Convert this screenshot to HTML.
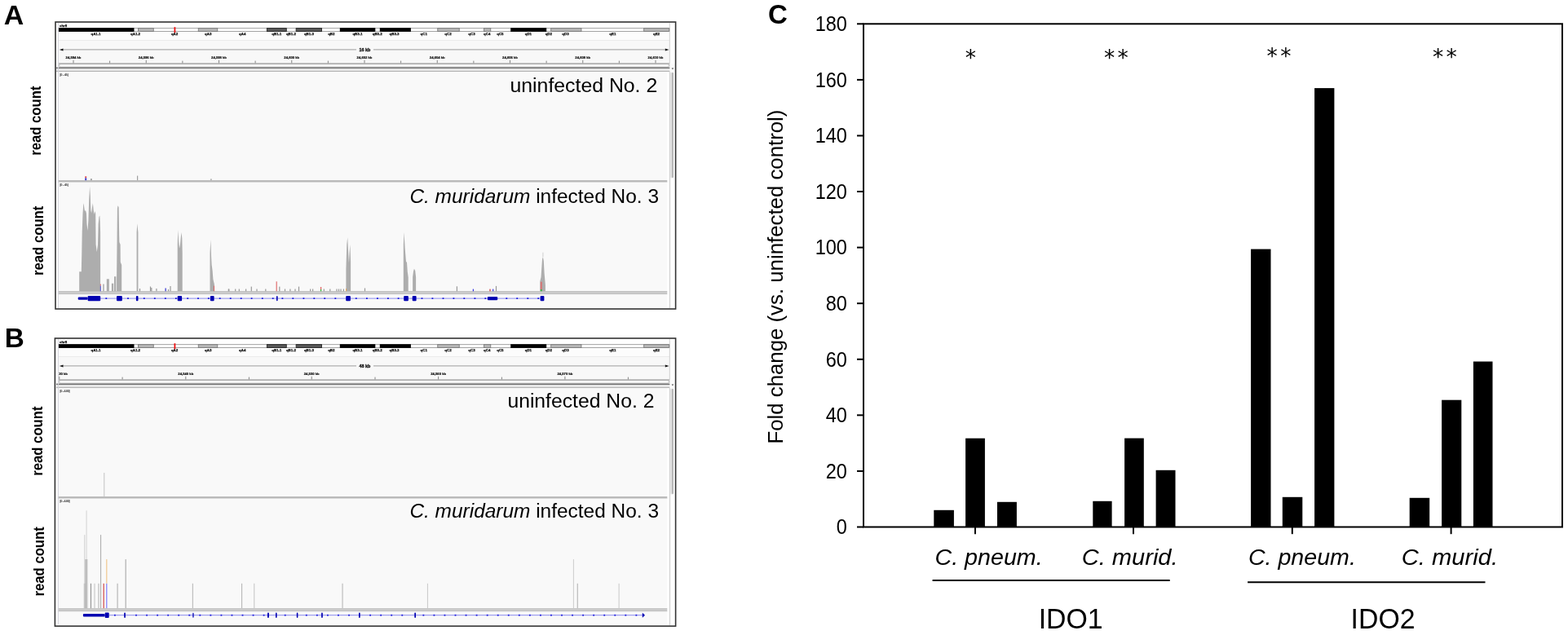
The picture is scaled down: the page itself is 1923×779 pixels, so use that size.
<!DOCTYPE html>
<html><head><meta charset="utf-8"><title>Figure</title>
<style>html,body{margin:0;padding:0;background:#fff;}body{width:1923px;height:779px;overflow:hidden;}svg{display:block;}</style>
</head><body>
<svg width="1923" height="779" viewBox="0 0 1923 779">
<rect x="0" y="0" width="1923" height="779" fill="#fff"/>
<rect x="68" y="27" width="760.6" height="352" fill="#ffffff"/>
<rect x="72" y="39.5" width="749" height="9.5" fill="#fcfcfc"/>
<rect x="72" y="49" width="749" height="29" fill="#f8f8f8"/>
<line x1="72" y1="49.5" x2="821" y2="49.5" stroke="#ebebeb" stroke-width="1"/>
<text x="73" y="32.6" font-family="'Liberation Sans', Arial, sans-serif" font-size="4.4" font-weight="bold" font-style="normal" text-anchor="start" fill="#111" stroke="#111" stroke-width="0.25">chr8</text>
<rect x="72" y="34.65" width="749" height="3.8" fill="#fff" stroke="#9a9a9a" stroke-width="0.9"/>
<rect x="72" y="34.2" width="92.5" height="4.7" fill="#000"/>
<rect x="169.55" y="34.65" width="18.7" height="3.8" fill="#b6b6b6" stroke="#7a7a7a" stroke-width="0.9"/>
<rect x="243.25" y="34.65" width="23.5" height="3.8" fill="#b6b6b6" stroke="#7a7a7a" stroke-width="0.9"/>
<rect x="327.35" y="34.65" width="23.9" height="3.8" fill="#585858" stroke="#222" stroke-width="0.9"/>
<rect x="363.15" y="34.65" width="31.3" height="3.8" fill="#585858" stroke="#222" stroke-width="0.9"/>
<rect x="416.8" y="34.2" width="43.5" height="4.7" fill="#000"/>
<rect x="465.8" y="34.2" width="38.1" height="4.7" fill="#000"/>
<rect x="536.75" y="34.65" width="26.5" height="3.8" fill="#b6b6b6" stroke="#7a7a7a" stroke-width="0.9"/>
<rect x="593.55" y="34.65" width="8.2" height="3.8" fill="#b6b6b6" stroke="#7a7a7a" stroke-width="0.9"/>
<rect x="626.2" y="34.2" width="44" height="4.7" fill="#000"/>
<rect x="675.65" y="34.65" width="37.3" height="3.8" fill="#b6b6b6" stroke="#7a7a7a" stroke-width="0.9"/>
<rect x="789.65" y="34.65" width="30.8" height="3.8" fill="#b6b6b6" stroke="#7a7a7a" stroke-width="0.9"/>
<rect x="213.5" y="33.2" width="1.8" height="7" fill="#ee1111"/>
<text x="117.5" y="43.3" font-family="'Liberation Sans', Arial, sans-serif" font-size="4.4" font-weight="bold" font-style="normal" text-anchor="middle" fill="#111" stroke="#111" stroke-width="0.25">qA1.1</text>
<text x="166.1" y="43.3" font-family="'Liberation Sans', Arial, sans-serif" font-size="4.4" font-weight="bold" font-style="normal" text-anchor="middle" fill="#111" stroke="#111" stroke-width="0.25">qA1.2</text>
<text x="214.1" y="43.3" font-family="'Liberation Sans', Arial, sans-serif" font-size="4.4" font-weight="bold" font-style="normal" text-anchor="middle" fill="#111" stroke="#111" stroke-width="0.25">qA2</text>
<text x="255.2" y="43.3" font-family="'Liberation Sans', Arial, sans-serif" font-size="4.4" font-weight="bold" font-style="normal" text-anchor="middle" fill="#111" stroke="#111" stroke-width="0.25">qA3</text>
<text x="297.2" y="43.3" font-family="'Liberation Sans', Arial, sans-serif" font-size="4.4" font-weight="bold" font-style="normal" text-anchor="middle" fill="#111" stroke="#111" stroke-width="0.25">qA4</text>
<text x="339.3" y="43.3" font-family="'Liberation Sans', Arial, sans-serif" font-size="4.4" font-weight="bold" font-style="normal" text-anchor="middle" fill="#111" stroke="#111" stroke-width="0.25">qB1.1</text>
<text x="356.9" y="43.3" font-family="'Liberation Sans', Arial, sans-serif" font-size="4.4" font-weight="bold" font-style="normal" text-anchor="middle" fill="#111" stroke="#111" stroke-width="0.25">qB1.2</text>
<text x="378.9" y="43.3" font-family="'Liberation Sans', Arial, sans-serif" font-size="4.4" font-weight="bold" font-style="normal" text-anchor="middle" fill="#111" stroke="#111" stroke-width="0.25">qB1.3</text>
<text x="406.3" y="43.3" font-family="'Liberation Sans', Arial, sans-serif" font-size="4.4" font-weight="bold" font-style="normal" text-anchor="middle" fill="#111" stroke="#111" stroke-width="0.25">qB2</text>
<text x="438.4" y="43.3" font-family="'Liberation Sans', Arial, sans-serif" font-size="4.4" font-weight="bold" font-style="normal" text-anchor="middle" fill="#111" stroke="#111" stroke-width="0.25">qB3.1</text>
<text x="462.7" y="43.3" font-family="'Liberation Sans', Arial, sans-serif" font-size="4.4" font-weight="bold" font-style="normal" text-anchor="middle" fill="#111" stroke="#111" stroke-width="0.25">qB3.2</text>
<text x="483.6" y="43.3" font-family="'Liberation Sans', Arial, sans-serif" font-size="4.4" font-weight="bold" font-style="normal" text-anchor="middle" fill="#111" stroke="#111" stroke-width="0.25">qB3.3</text>
<text x="519.7" y="43.3" font-family="'Liberation Sans', Arial, sans-serif" font-size="4.4" font-weight="bold" font-style="normal" text-anchor="middle" fill="#111" stroke="#111" stroke-width="0.25">qC1</text>
<text x="549.5" y="43.3" font-family="'Liberation Sans', Arial, sans-serif" font-size="4.4" font-weight="bold" font-style="normal" text-anchor="middle" fill="#111" stroke="#111" stroke-width="0.25">qC2</text>
<text x="578.5" y="43.3" font-family="'Liberation Sans', Arial, sans-serif" font-size="4.4" font-weight="bold" font-style="normal" text-anchor="middle" fill="#111" stroke="#111" stroke-width="0.25">qC3</text>
<text x="597.2" y="43.3" font-family="'Liberation Sans', Arial, sans-serif" font-size="4.4" font-weight="bold" font-style="normal" text-anchor="middle" fill="#111" stroke="#111" stroke-width="0.25">qC4</text>
<text x="613.4" y="43.3" font-family="'Liberation Sans', Arial, sans-serif" font-size="4.4" font-weight="bold" font-style="normal" text-anchor="middle" fill="#111" stroke="#111" stroke-width="0.25">qC5</text>
<text x="647.9" y="43.3" font-family="'Liberation Sans', Arial, sans-serif" font-size="4.4" font-weight="bold" font-style="normal" text-anchor="middle" fill="#111" stroke="#111" stroke-width="0.25">qD1</text>
<text x="672.8" y="43.3" font-family="'Liberation Sans', Arial, sans-serif" font-size="4.4" font-weight="bold" font-style="normal" text-anchor="middle" fill="#111" stroke="#111" stroke-width="0.25">qD2</text>
<text x="693.5" y="43.3" font-family="'Liberation Sans', Arial, sans-serif" font-size="4.4" font-weight="bold" font-style="normal" text-anchor="middle" fill="#111" stroke="#111" stroke-width="0.25">qD3</text>
<text x="751.3" y="43.3" font-family="'Liberation Sans', Arial, sans-serif" font-size="4.4" font-weight="bold" font-style="normal" text-anchor="middle" fill="#111" stroke="#111" stroke-width="0.25">qE1</text>
<text x="805" y="43.3" font-family="'Liberation Sans', Arial, sans-serif" font-size="4.4" font-weight="bold" font-style="normal" text-anchor="middle" fill="#111" stroke="#111" stroke-width="0.25">qE2</text>
<line x1="76" y1="60.9" x2="437" y2="60.9" stroke="#9c9c9c" stroke-width="1"/>
<line x1="458" y1="60.9" x2="817" y2="60.9" stroke="#9c9c9c" stroke-width="1"/>
<path d="M72.8 60.9 L77.5 59.4 L77.5 62.4 Z" fill="#111"/>
<path d="M820.5 60.9 L815.8 59.4 L815.8 62.4 Z" fill="#111"/>
<text x="447.5" y="62.9" font-family="'Liberation Sans', Arial, sans-serif" font-size="5.4" font-weight="bold" font-style="normal" text-anchor="middle" fill="#111" stroke="#111" stroke-width="0.3">16 kb</text>
<line x1="90" y1="73.8" x2="90" y2="77.5" stroke="#777" stroke-width="0.9"/>
<text x="90" y="72.2" font-family="'Liberation Sans', Arial, sans-serif" font-size="4.2" font-weight="bold" font-style="normal" text-anchor="middle" fill="#111" stroke="#111" stroke-width="0.2">24,594 kb</text>
<line x1="179.25" y1="73.8" x2="179.25" y2="77.5" stroke="#777" stroke-width="0.9"/>
<text x="179.25" y="72.2" font-family="'Liberation Sans', Arial, sans-serif" font-size="4.2" font-weight="bold" font-style="normal" text-anchor="middle" fill="#111" stroke="#111" stroke-width="0.2">24,596 kb</text>
<line x1="268.5" y1="73.8" x2="268.5" y2="77.5" stroke="#777" stroke-width="0.9"/>
<text x="268.5" y="72.2" font-family="'Liberation Sans', Arial, sans-serif" font-size="4.2" font-weight="bold" font-style="normal" text-anchor="middle" fill="#111" stroke="#111" stroke-width="0.2">24,598 kb</text>
<line x1="357.75" y1="73.8" x2="357.75" y2="77.5" stroke="#777" stroke-width="0.9"/>
<text x="357.75" y="72.2" font-family="'Liberation Sans', Arial, sans-serif" font-size="4.2" font-weight="bold" font-style="normal" text-anchor="middle" fill="#111" stroke="#111" stroke-width="0.2">24,600 kb</text>
<line x1="447" y1="73.8" x2="447" y2="77.5" stroke="#777" stroke-width="0.9"/>
<text x="447" y="72.2" font-family="'Liberation Sans', Arial, sans-serif" font-size="4.2" font-weight="bold" font-style="normal" text-anchor="middle" fill="#111" stroke="#111" stroke-width="0.2">24,602 kb</text>
<line x1="536.25" y1="73.8" x2="536.25" y2="77.5" stroke="#777" stroke-width="0.9"/>
<text x="536.25" y="72.2" font-family="'Liberation Sans', Arial, sans-serif" font-size="4.2" font-weight="bold" font-style="normal" text-anchor="middle" fill="#111" stroke="#111" stroke-width="0.2">24,604 kb</text>
<line x1="625.5" y1="73.8" x2="625.5" y2="77.5" stroke="#777" stroke-width="0.9"/>
<text x="625.5" y="72.2" font-family="'Liberation Sans', Arial, sans-serif" font-size="4.2" font-weight="bold" font-style="normal" text-anchor="middle" fill="#111" stroke="#111" stroke-width="0.2">24,606 kb</text>
<line x1="714.75" y1="73.8" x2="714.75" y2="77.5" stroke="#777" stroke-width="0.9"/>
<text x="714.75" y="72.2" font-family="'Liberation Sans', Arial, sans-serif" font-size="4.2" font-weight="bold" font-style="normal" text-anchor="middle" fill="#111" stroke="#111" stroke-width="0.2">24,608 kb</text>
<line x1="804" y1="73.8" x2="804" y2="77.5" stroke="#777" stroke-width="0.9"/>
<text x="804" y="72.2" font-family="'Liberation Sans', Arial, sans-serif" font-size="4.2" font-weight="bold" font-style="normal" text-anchor="middle" fill="#111" stroke="#111" stroke-width="0.2">24,610 kb</text>
<line x1="134.62" y1="74.6" x2="134.62" y2="77.5" stroke="#777" stroke-width="0.9"/>
<line x1="223.87" y1="74.6" x2="223.87" y2="77.5" stroke="#777" stroke-width="0.9"/>
<line x1="313.12" y1="74.6" x2="313.12" y2="77.5" stroke="#777" stroke-width="0.9"/>
<line x1="402.37" y1="74.6" x2="402.37" y2="77.5" stroke="#777" stroke-width="0.9"/>
<line x1="491.62" y1="74.6" x2="491.62" y2="77.5" stroke="#777" stroke-width="0.9"/>
<line x1="580.87" y1="74.6" x2="580.87" y2="77.5" stroke="#777" stroke-width="0.9"/>
<line x1="670.12" y1="74.6" x2="670.12" y2="77.5" stroke="#777" stroke-width="0.9"/>
<line x1="759.37" y1="74.6" x2="759.37" y2="77.5" stroke="#777" stroke-width="0.9"/>
<line x1="72" y1="78" x2="821" y2="78" stroke="#8a8a8a" stroke-width="1"/>
<line x1="821.3" y1="28" x2="821.3" y2="82.2" stroke="#c4c4c4" stroke-width="0.8"/>
<rect x="72.5" y="78.7" width="748" height="3.4" rx="1.5" fill="#fff" stroke="#a0a0a0" stroke-width="0.8"/>
<rect x="69" y="82.6" width="752.6" height="1.5" fill="#6c6c6c"/>
<rect x="69" y="84.1" width="752.6" height="3" fill="#e6e6e6"/>
<rect x="69" y="87.1" width="752.6" height="1" fill="#ababab"/>
<rect x="821.6" y="78" width="6.2" height="10.3" fill="#fbfbfb"/>
<rect x="72" y="88.1" width="746.3" height="133" fill="#f9f9f9"/>
<rect x="70.9" y="221.1" width="750.3" height="2.6" fill="#b8b8b8"/>
<rect x="72" y="223.7" width="746.3" height="133.6" fill="#f9f9f9"/>
<rect x="72" y="357.3" width="746.3" height="0" fill="#f9f9f9"/>
<rect x="70.9" y="357.3" width="750.3" height="1" fill="#a4a4a4"/>
<rect x="70.9" y="358.3" width="750.3" height="3.1" fill="#c6c6c6"/>
<rect x="72" y="361.4" width="746.3" height="16.6" fill="#f9f9f9"/>
<line x1="71.4" y1="28" x2="71.4" y2="378" stroke="#d4d4dc" stroke-width="1"/>
<rect x="818.3" y="88.1" width="9.5" height="289.9" fill="#ffffff"/>
<rect x="820.9" y="88.1" width="1.2" height="289.9" fill="#d0d0d0"/>
<rect x="822.2" y="88.5" width="3.8" height="130" rx="1.6" fill="#e4e4e4"/>
<rect x="823.9" y="89" width="1.9" height="129" rx="0.9" fill="#b4b4b4"/>
<path d="M823.6 83.4 L826.2 83.4 L824.9 85.3 Z" fill="#444"/>
<text x="73.4" y="92.6" font-family="'Liberation Sans', Arial, sans-serif" font-size="3.6" font-weight="normal" font-style="normal" text-anchor="start" fill="#444" stroke="#555" stroke-width="0.2" textLength="10.3" lengthAdjust="spacing">[0 - 45]</text>
<text x="73.4" y="227.8" font-family="'Liberation Sans', Arial, sans-serif" font-size="3.6" font-weight="normal" font-style="normal" text-anchor="start" fill="#444" stroke="#555" stroke-width="0.2" textLength="10.3" lengthAdjust="spacing">[0 - 45]</text>
<rect x="68" y="27" width="760.6" height="352" fill="none" stroke="#333" stroke-width="1.6"/>
<rect x="104.2" y="216.3" width="2" height="2.1" fill="#e05050"/>
<rect x="104.2" y="218.4" width="2" height="2.8" fill="#4040d0"/>
<rect x="111" y="219.2" width="1.8" height="2" fill="#9a9a9a"/>
<rect x="168" y="215.6" width="1.2" height="5.6" fill="#a0a0a0"/>
<rect x="258.2" y="219.4" width="1.4" height="1.8" fill="#a0a0a0"/>
<polygon points="97.2,357.3 97.2,333.2 99.8,333.2 100.3,310 100.7,285 101.5,262 102.2,252 102.7,249.3 103.3,255 104,259 105,258 106,262 106.5,275 107.5,283 108.4,270 109.2,245 110.1,228.8 110.8,240 111.4,258 112.2,261.5 112.9,255 113.9,249.3 114.7,258 115.5,263 116.3,259 117.2,262 117.6,300 118.8,309 120,300 120.6,275 121.5,266 122.3,264.5 122.7,272 123.1,285 123.1,357.3" fill="#adadad"/>
<polygon points="143.1,357.3 143.1,339 143.6,290 143.9,256 144.5,252.3 145.6,254 146.2,290 146.4,297 147.6,300 147.8,321.5 149.2,325 149.2,357.3" fill="#adadad"/>
<polygon points="167.6,357.3 167.6,285 168.3,274.2 169.4,285 169.4,357.3" fill="#adadad"/>
<polygon points="217.7,357.3 217.7,300 218.3,282.3 219.2,296 220,304.7 221,300 222.4,285 223.3,292 223.7,310 223.7,357.3" fill="#adadad"/>
<polygon points="257.5,357.3 257.5,310 258.4,294 259.1,315 259.6,324.5 260.6,332 261.4,342.5 262.9,349 262.9,357.3" fill="#adadad"/>
<polygon points="424.4,357.3 424.4,330 425.3,300 426.2,291.2 427.2,310 428,322.6 428.6,310 429.4,300.1 430.1,320 430.1,357.3" fill="#adadad"/>
<polygon points="494.8,357.3 494.8,300 495.5,284.9 496.7,305 498,320.8 499,322 499.8,333.4 500.7,340 500.7,357.3" fill="#adadad"/>
<polygon points="506.1,357.3 506.1,340 507,333 507.9,329.8 509.2,332 510.1,340 510.1,357.3" fill="#adadad"/>
<polygon points="662.3,357.3 662.3,345 663.5,340 665,318 665.9,315.3 666.8,320 667.6,335 668.9,350 668.9,357.3" fill="#adadad"/>
<rect x="665.4" y="309.7" width="1" height="5.6" fill="#cfcfcf"/>
<rect x="126.2" y="348.5" width="1.5" height="8.8" fill="#adadad"/>
<rect x="130.8" y="342.3" width="3" height="15" fill="#adadad"/>
<rect x="136.9" y="347.7" width="2.3" height="9.6" fill="#adadad"/>
<rect x="140" y="339.2" width="2.3" height="18.1" fill="#adadad"/>
<rect x="122.8" y="350.5" width="1" height="6.8" fill="#5050d0"/>
<rect x="122.8" y="348.5" width="1" height="2" fill="#e06060"/>
<rect x="262.1" y="350.6" width="0.8" height="6.7" fill="#e05050"/>
<rect x="662.8" y="345.7" width="1.9" height="9.3" fill="#d87070"/>
<rect x="662.8" y="355" width="1.9" height="2.3" fill="#40b040"/>
<rect x="170.9" y="354" width="1.2" height="3.3" fill="#9a9a9a"/>
<rect x="183.9" y="351.5" width="1.2" height="5.8" fill="#9a9a9a"/>
<rect x="185.2" y="353" width="1.2" height="4.3" fill="#9a9a9a"/>
<rect x="191.3" y="354" width="1.2" height="3.3" fill="#9a9a9a"/>
<rect x="205.9" y="355" width="1.2" height="2.3" fill="#9a9a9a"/>
<rect x="208.4" y="351" width="1.2" height="6.3" fill="#9a9a9a"/>
<rect x="279.7" y="354.5" width="1.2" height="2.8" fill="#9a9a9a"/>
<rect x="280.2" y="354.5" width="1.2" height="2.8" fill="#9a9a9a"/>
<rect x="288.1" y="354.5" width="1.2" height="2.8" fill="#9a9a9a"/>
<rect x="292.7" y="354.5" width="1.2" height="2.8" fill="#9a9a9a"/>
<rect x="301" y="354.5" width="1.2" height="2.8" fill="#9a9a9a"/>
<rect x="307.7" y="351.6" width="1.2" height="5.7" fill="#9a9a9a"/>
<rect x="314.4" y="354.5" width="1.2" height="2.8" fill="#9a9a9a"/>
<rect x="325.2" y="354.5" width="1.2" height="2.8" fill="#9a9a9a"/>
<rect x="342.2" y="351.6" width="1.2" height="5.7" fill="#9a9a9a"/>
<rect x="348.9" y="354.5" width="1.2" height="2.8" fill="#9a9a9a"/>
<rect x="355.3" y="354.5" width="1.2" height="2.8" fill="#9a9a9a"/>
<rect x="361.4" y="354.5" width="1.2" height="2.8" fill="#9a9a9a"/>
<rect x="365.9" y="351.6" width="1.2" height="5.7" fill="#9a9a9a"/>
<rect x="380.1" y="354.5" width="1.2" height="2.8" fill="#9a9a9a"/>
<rect x="383" y="354.5" width="1.2" height="2.8" fill="#9a9a9a"/>
<rect x="396.7" y="354.5" width="1.2" height="2.8" fill="#9a9a9a"/>
<rect x="404.2" y="354.5" width="1.2" height="2.8" fill="#9a9a9a"/>
<rect x="412.4" y="354.5" width="1.2" height="2.8" fill="#9a9a9a"/>
<rect x="414.9" y="354.5" width="1.2" height="2.8" fill="#9a9a9a"/>
<rect x="417.4" y="354.5" width="1.2" height="2.8" fill="#9a9a9a"/>
<rect x="420.8" y="354.5" width="1.2" height="2.8" fill="#9a9a9a"/>
<rect x="446.9" y="353.5" width="1.2" height="3.8" fill="#9a9a9a"/>
<rect x="559.8" y="351.3" width="1.2" height="6" fill="#9a9a9a"/>
<rect x="607.9" y="350.9" width="1.2" height="6.4" fill="#9a9a9a"/>
<rect x="202.5" y="353.5" width="1.2" height="3.8" fill="#3030d0"/>
<rect x="338.6" y="345.3" width="1.2" height="12" fill="#e07070"/>
<rect x="393" y="352" width="1.2" height="3" fill="#e06060"/>
<rect x="393" y="355" width="1.2" height="2.3" fill="#30b030"/>
<rect x="424" y="354" width="0.8" height="3.3" fill="#f0a040"/>
<rect x="579.8" y="354.6" width="1.2" height="2.7" fill="#3030e0"/>
<rect x="600.4" y="354.6" width="1.2" height="2.7" fill="#d03030"/>
<rect x="604.1" y="354.6" width="1.2" height="2.7" fill="#3030e0"/>
<text x="806.2" y="113" font-family="'Liberation Sans', Arial, sans-serif" font-size="23" font-weight="normal" font-style="normal" text-anchor="end" fill="#000" textLength="180.7" lengthAdjust="spacingAndGlyphs">uninfected No. 2</text>
<text x="502.4" y="248.6" font-family="'Liberation Sans', Arial, sans-serif" font-size="23" fill="#000" textLength="305.6" lengthAdjust="spacingAndGlyphs"><tspan font-style="italic">C. muridarum</tspan> infected No. 3</text>
<line x1="107.6" y1="366.1" x2="662.6" y2="366.1" stroke="#8a8aee" stroke-width="1"/>
<rect x="129.4" y="365.2" width="1.8" height="1.8" fill="#2222dd"/>
<rect x="156.1" y="365.2" width="1.8" height="1.8" fill="#2222dd"/>
<rect x="175.9" y="365.2" width="1.8" height="1.8" fill="#2222dd"/>
<rect x="188.9" y="365.2" width="1.8" height="1.8" fill="#2222dd"/>
<rect x="201.9" y="365.2" width="1.8" height="1.8" fill="#2222dd"/>
<rect x="214.9" y="365.2" width="1.8" height="1.8" fill="#2222dd"/>
<rect x="229.3" y="365.2" width="1.8" height="1.8" fill="#2222dd"/>
<rect x="242.1" y="365.2" width="1.8" height="1.8" fill="#2222dd"/>
<rect x="254.9" y="365.2" width="1.8" height="1.8" fill="#2222dd"/>
<rect x="268.8" y="365.2" width="1.8" height="1.8" fill="#2222dd"/>
<rect x="281.8" y="365.2" width="1.8" height="1.8" fill="#2222dd"/>
<rect x="294.8" y="365.2" width="1.8" height="1.8" fill="#2222dd"/>
<rect x="307.7" y="365.2" width="1.8" height="1.8" fill="#2222dd"/>
<rect x="320.9" y="365.2" width="1.8" height="1.8" fill="#2222dd"/>
<rect x="333.8" y="365.2" width="1.8" height="1.8" fill="#2222dd"/>
<rect x="345.5" y="365.2" width="1.8" height="1.8" fill="#2222dd"/>
<rect x="358.4" y="365.2" width="1.8" height="1.8" fill="#2222dd"/>
<rect x="371.5" y="365.2" width="1.8" height="1.8" fill="#2222dd"/>
<rect x="384.4" y="365.2" width="1.8" height="1.8" fill="#2222dd"/>
<rect x="397.3" y="365.2" width="1.8" height="1.8" fill="#2222dd"/>
<rect x="410.4" y="365.2" width="1.8" height="1.8" fill="#2222dd"/>
<rect x="435.9" y="365.2" width="1.8" height="1.8" fill="#2222dd"/>
<rect x="449" y="365.2" width="1.8" height="1.8" fill="#2222dd"/>
<rect x="462" y="365.2" width="1.8" height="1.8" fill="#2222dd"/>
<rect x="475" y="365.2" width="1.8" height="1.8" fill="#2222dd"/>
<rect x="487.7" y="365.2" width="1.8" height="1.8" fill="#2222dd"/>
<rect x="516.6" y="365.2" width="1.8" height="1.8" fill="#2222dd"/>
<rect x="529.5" y="365.2" width="1.8" height="1.8" fill="#2222dd"/>
<rect x="542.6" y="365.2" width="1.8" height="1.8" fill="#2222dd"/>
<rect x="555.5" y="365.2" width="1.8" height="1.8" fill="#2222dd"/>
<rect x="568.4" y="365.2" width="1.8" height="1.8" fill="#2222dd"/>
<rect x="581.5" y="365.2" width="1.8" height="1.8" fill="#2222dd"/>
<rect x="594.4" y="365.2" width="1.8" height="1.8" fill="#2222dd"/>
<rect x="620.4" y="365.2" width="1.8" height="1.8" fill="#2222dd"/>
<rect x="633.3" y="365.2" width="1.8" height="1.8" fill="#2222dd"/>
<rect x="646.4" y="365.2" width="1.8" height="1.8" fill="#2222dd"/>
<rect x="659.3" y="365.2" width="1.8" height="1.8" fill="#2222dd"/>
<rect x="95.7" y="364.4" width="11.9" height="3.4" rx="1" fill="#0000b2"/>
<rect x="107.6" y="362.9" width="15.6" height="6.4" rx="1" fill="#0000b2"/>
<rect x="143" y="362.9" width="6.8" height="6.4" rx="1" fill="#0000b2"/>
<rect x="166.9" y="362.9" width="2.6" height="6.4" rx="1" fill="#0000b2"/>
<rect x="217.7" y="362.9" width="5.4" height="6.4" rx="1" fill="#0000b2"/>
<rect x="257.9" y="362.9" width="4.7" height="6.4" rx="1" fill="#0000b2"/>
<rect x="339" y="362.9" width="1.6" height="6.4" rx="1" fill="#0000b2"/>
<rect x="424.2" y="362.9" width="5.7" height="6.4" rx="1" fill="#0000b2"/>
<rect x="495.2" y="362.9" width="5.7" height="6.4" rx="1" fill="#0000b2"/>
<rect x="505.7" y="362.9" width="4.9" height="6.4" rx="1" fill="#0000b2"/>
<rect x="597.9" y="364" width="12.3" height="4.2" rx="1" fill="#0000b2"/>
<rect x="662.6" y="362.9" width="4.8" height="6.4" rx="1" fill="#0000b2"/>
<rect x="68" y="415" width="760.6" height="352" fill="#ffffff"/>
<rect x="72" y="427.5" width="749" height="9.5" fill="#fcfcfc"/>
<rect x="72" y="437" width="749" height="29" fill="#f8f8f8"/>
<line x1="72" y1="437.5" x2="821" y2="437.5" stroke="#ebebeb" stroke-width="1"/>
<text x="73" y="420.6" font-family="'Liberation Sans', Arial, sans-serif" font-size="4.4" font-weight="bold" font-style="normal" text-anchor="start" fill="#111" stroke="#111" stroke-width="0.25">chr8</text>
<rect x="72" y="422.65" width="749" height="3.8" fill="#fff" stroke="#9a9a9a" stroke-width="0.9"/>
<rect x="72" y="422.2" width="92.5" height="4.7" fill="#000"/>
<rect x="169.55" y="422.65" width="18.7" height="3.8" fill="#b6b6b6" stroke="#7a7a7a" stroke-width="0.9"/>
<rect x="243.25" y="422.65" width="23.5" height="3.8" fill="#b6b6b6" stroke="#7a7a7a" stroke-width="0.9"/>
<rect x="327.35" y="422.65" width="23.9" height="3.8" fill="#585858" stroke="#222" stroke-width="0.9"/>
<rect x="363.15" y="422.65" width="31.3" height="3.8" fill="#585858" stroke="#222" stroke-width="0.9"/>
<rect x="416.8" y="422.2" width="43.5" height="4.7" fill="#000"/>
<rect x="465.8" y="422.2" width="38.1" height="4.7" fill="#000"/>
<rect x="536.75" y="422.65" width="26.5" height="3.8" fill="#b6b6b6" stroke="#7a7a7a" stroke-width="0.9"/>
<rect x="593.55" y="422.65" width="8.2" height="3.8" fill="#b6b6b6" stroke="#7a7a7a" stroke-width="0.9"/>
<rect x="626.2" y="422.2" width="44" height="4.7" fill="#000"/>
<rect x="675.65" y="422.65" width="37.3" height="3.8" fill="#b6b6b6" stroke="#7a7a7a" stroke-width="0.9"/>
<rect x="789.65" y="422.65" width="30.8" height="3.8" fill="#b6b6b6" stroke="#7a7a7a" stroke-width="0.9"/>
<rect x="213.5" y="421.2" width="1.8" height="7" fill="#ee1111"/>
<text x="117.5" y="431.3" font-family="'Liberation Sans', Arial, sans-serif" font-size="4.4" font-weight="bold" font-style="normal" text-anchor="middle" fill="#111" stroke="#111" stroke-width="0.25">qA1.1</text>
<text x="166.1" y="431.3" font-family="'Liberation Sans', Arial, sans-serif" font-size="4.4" font-weight="bold" font-style="normal" text-anchor="middle" fill="#111" stroke="#111" stroke-width="0.25">qA1.2</text>
<text x="214.1" y="431.3" font-family="'Liberation Sans', Arial, sans-serif" font-size="4.4" font-weight="bold" font-style="normal" text-anchor="middle" fill="#111" stroke="#111" stroke-width="0.25">qA2</text>
<text x="255.2" y="431.3" font-family="'Liberation Sans', Arial, sans-serif" font-size="4.4" font-weight="bold" font-style="normal" text-anchor="middle" fill="#111" stroke="#111" stroke-width="0.25">qA3</text>
<text x="297.2" y="431.3" font-family="'Liberation Sans', Arial, sans-serif" font-size="4.4" font-weight="bold" font-style="normal" text-anchor="middle" fill="#111" stroke="#111" stroke-width="0.25">qA4</text>
<text x="339.3" y="431.3" font-family="'Liberation Sans', Arial, sans-serif" font-size="4.4" font-weight="bold" font-style="normal" text-anchor="middle" fill="#111" stroke="#111" stroke-width="0.25">qB1.1</text>
<text x="356.9" y="431.3" font-family="'Liberation Sans', Arial, sans-serif" font-size="4.4" font-weight="bold" font-style="normal" text-anchor="middle" fill="#111" stroke="#111" stroke-width="0.25">qB1.2</text>
<text x="378.9" y="431.3" font-family="'Liberation Sans', Arial, sans-serif" font-size="4.4" font-weight="bold" font-style="normal" text-anchor="middle" fill="#111" stroke="#111" stroke-width="0.25">qB1.3</text>
<text x="406.3" y="431.3" font-family="'Liberation Sans', Arial, sans-serif" font-size="4.4" font-weight="bold" font-style="normal" text-anchor="middle" fill="#111" stroke="#111" stroke-width="0.25">qB2</text>
<text x="438.4" y="431.3" font-family="'Liberation Sans', Arial, sans-serif" font-size="4.4" font-weight="bold" font-style="normal" text-anchor="middle" fill="#111" stroke="#111" stroke-width="0.25">qB3.1</text>
<text x="462.7" y="431.3" font-family="'Liberation Sans', Arial, sans-serif" font-size="4.4" font-weight="bold" font-style="normal" text-anchor="middle" fill="#111" stroke="#111" stroke-width="0.25">qB3.2</text>
<text x="483.6" y="431.3" font-family="'Liberation Sans', Arial, sans-serif" font-size="4.4" font-weight="bold" font-style="normal" text-anchor="middle" fill="#111" stroke="#111" stroke-width="0.25">qB3.3</text>
<text x="519.7" y="431.3" font-family="'Liberation Sans', Arial, sans-serif" font-size="4.4" font-weight="bold" font-style="normal" text-anchor="middle" fill="#111" stroke="#111" stroke-width="0.25">qC1</text>
<text x="549.5" y="431.3" font-family="'Liberation Sans', Arial, sans-serif" font-size="4.4" font-weight="bold" font-style="normal" text-anchor="middle" fill="#111" stroke="#111" stroke-width="0.25">qC2</text>
<text x="578.5" y="431.3" font-family="'Liberation Sans', Arial, sans-serif" font-size="4.4" font-weight="bold" font-style="normal" text-anchor="middle" fill="#111" stroke="#111" stroke-width="0.25">qC3</text>
<text x="597.2" y="431.3" font-family="'Liberation Sans', Arial, sans-serif" font-size="4.4" font-weight="bold" font-style="normal" text-anchor="middle" fill="#111" stroke="#111" stroke-width="0.25">qC4</text>
<text x="613.4" y="431.3" font-family="'Liberation Sans', Arial, sans-serif" font-size="4.4" font-weight="bold" font-style="normal" text-anchor="middle" fill="#111" stroke="#111" stroke-width="0.25">qC5</text>
<text x="647.9" y="431.3" font-family="'Liberation Sans', Arial, sans-serif" font-size="4.4" font-weight="bold" font-style="normal" text-anchor="middle" fill="#111" stroke="#111" stroke-width="0.25">qD1</text>
<text x="672.8" y="431.3" font-family="'Liberation Sans', Arial, sans-serif" font-size="4.4" font-weight="bold" font-style="normal" text-anchor="middle" fill="#111" stroke="#111" stroke-width="0.25">qD2</text>
<text x="693.5" y="431.3" font-family="'Liberation Sans', Arial, sans-serif" font-size="4.4" font-weight="bold" font-style="normal" text-anchor="middle" fill="#111" stroke="#111" stroke-width="0.25">qD3</text>
<text x="751.3" y="431.3" font-family="'Liberation Sans', Arial, sans-serif" font-size="4.4" font-weight="bold" font-style="normal" text-anchor="middle" fill="#111" stroke="#111" stroke-width="0.25">qE1</text>
<text x="805" y="431.3" font-family="'Liberation Sans', Arial, sans-serif" font-size="4.4" font-weight="bold" font-style="normal" text-anchor="middle" fill="#111" stroke="#111" stroke-width="0.25">qE2</text>
<line x1="76" y1="448.9" x2="437" y2="448.9" stroke="#9c9c9c" stroke-width="1"/>
<line x1="458" y1="448.9" x2="817" y2="448.9" stroke="#9c9c9c" stroke-width="1"/>
<path d="M72.8 448.9 L77.5 447.4 L77.5 450.4 Z" fill="#111"/>
<path d="M820.5 448.9 L815.8 447.4 L815.8 450.4 Z" fill="#111"/>
<text x="447.5" y="450.9" font-family="'Liberation Sans', Arial, sans-serif" font-size="5.4" font-weight="bold" font-style="normal" text-anchor="middle" fill="#111" stroke="#111" stroke-width="0.3">48 kb</text>
<line x1="72.8" y1="461.8" x2="72.8" y2="465.5" stroke="#777" stroke-width="0.9"/>
<text x="72.2" y="460.2" font-family="'Liberation Sans', Arial, sans-serif" font-size="4.2" font-weight="bold" font-style="normal" text-anchor="start" fill="#111" stroke="#111" stroke-width="0.2">30 kb</text>
<line x1="227.8" y1="461.8" x2="227.8" y2="465.5" stroke="#777" stroke-width="0.9"/>
<text x="227.8" y="460.2" font-family="'Liberation Sans', Arial, sans-serif" font-size="4.2" font-weight="bold" font-style="normal" text-anchor="middle" fill="#111" stroke="#111" stroke-width="0.2">24,540 kb</text>
<line x1="382.2" y1="461.8" x2="382.2" y2="465.5" stroke="#777" stroke-width="0.9"/>
<text x="382.2" y="460.2" font-family="'Liberation Sans', Arial, sans-serif" font-size="4.2" font-weight="bold" font-style="normal" text-anchor="middle" fill="#111" stroke="#111" stroke-width="0.2">24,550 kb</text>
<line x1="537.6" y1="461.8" x2="537.6" y2="465.5" stroke="#777" stroke-width="0.9"/>
<text x="537.6" y="460.2" font-family="'Liberation Sans', Arial, sans-serif" font-size="4.2" font-weight="bold" font-style="normal" text-anchor="middle" fill="#111" stroke="#111" stroke-width="0.2">24,560 kb</text>
<line x1="692.9" y1="461.8" x2="692.9" y2="465.5" stroke="#777" stroke-width="0.9"/>
<text x="692.9" y="460.2" font-family="'Liberation Sans', Arial, sans-serif" font-size="4.2" font-weight="bold" font-style="normal" text-anchor="middle" fill="#111" stroke="#111" stroke-width="0.2">24,570 kb</text>
<line x1="150.1" y1="462.6" x2="150.1" y2="465.5" stroke="#777" stroke-width="0.9"/>
<line x1="305.4" y1="462.6" x2="305.4" y2="465.5" stroke="#777" stroke-width="0.9"/>
<line x1="460" y1="462.6" x2="460" y2="465.5" stroke="#777" stroke-width="0.9"/>
<line x1="615.4" y1="462.6" x2="615.4" y2="465.5" stroke="#777" stroke-width="0.9"/>
<line x1="770.4" y1="462.6" x2="770.4" y2="465.5" stroke="#777" stroke-width="0.9"/>
<line x1="72" y1="466" x2="821" y2="466" stroke="#8a8a8a" stroke-width="1"/>
<line x1="821.3" y1="416" x2="821.3" y2="470.2" stroke="#c4c4c4" stroke-width="0.8"/>
<rect x="72.5" y="466.7" width="748" height="3.4" rx="1.5" fill="#fff" stroke="#a0a0a0" stroke-width="0.8"/>
<rect x="69" y="470.6" width="752.6" height="1.5" fill="#6c6c6c"/>
<rect x="69" y="472.1" width="752.6" height="3" fill="#e6e6e6"/>
<rect x="69" y="475.1" width="752.6" height="1" fill="#ababab"/>
<rect x="821.6" y="466" width="6.2" height="10.3" fill="#fbfbfb"/>
<rect x="72" y="476.1" width="746.3" height="133" fill="#f9f9f9"/>
<rect x="70.9" y="609.1" width="750.3" height="2.6" fill="#b8b8b8"/>
<rect x="72" y="611.7" width="746.3" height="133.6" fill="#f9f9f9"/>
<rect x="72" y="745.3" width="746.3" height="1.1" fill="#f9f9f9"/>
<rect x="70.9" y="746.4" width="750.3" height="1" fill="#a4a4a4"/>
<rect x="70.9" y="747.4" width="750.3" height="3.1" fill="#c6c6c6"/>
<rect x="72" y="750.5" width="746.3" height="16.6" fill="#f9f9f9"/>
<line x1="71.4" y1="416" x2="71.4" y2="766" stroke="#d4d4dc" stroke-width="1"/>
<rect x="818.3" y="476.1" width="9.5" height="291" fill="#ffffff"/>
<rect x="820.9" y="476.1" width="1.2" height="291" fill="#d0d0d0"/>
<rect x="822.2" y="476.5" width="3.8" height="130" rx="1.6" fill="#e4e4e4"/>
<rect x="823.9" y="477" width="1.9" height="129" rx="0.9" fill="#b4b4b4"/>
<path d="M823.6 471.4 L826.2 471.4 L824.9 473.3 Z" fill="#444"/>
<text x="73.4" y="480.6" font-family="'Liberation Sans', Arial, sans-serif" font-size="3.6" font-weight="normal" font-style="normal" text-anchor="start" fill="#444" stroke="#555" stroke-width="0.2" textLength="12" lengthAdjust="spacing">[0 - 4.00]</text>
<text x="73.4" y="615.8" font-family="'Liberation Sans', Arial, sans-serif" font-size="3.6" font-weight="normal" font-style="normal" text-anchor="start" fill="#444" stroke="#555" stroke-width="0.2" textLength="12" lengthAdjust="spacing">[0 - 4.00]</text>
<rect x="67.4" y="415" width="761.2" height="353.1" fill="none" stroke="#333" stroke-width="1.6"/>
<rect x="127.3" y="580" width="1" height="29.2" fill="#c4c4c4"/>
<rect x="102.8" y="715.8" width="1.7" height="30.4" fill="#b4b4b4"/>
<rect x="103.3" y="656.1" width="1" height="90.1" fill="#cdcdcd"/>
<rect x="104.5" y="686.1" width="2.8" height="60.1" fill="#a8a8a8"/>
<rect x="105.6" y="626.3" width="1" height="119.9" fill="#d2d2d2"/>
<rect x="111" y="715.8" width="1" height="30.4" fill="#8c8c8c"/>
<rect x="115.5" y="715.8" width="1" height="30.4" fill="#c2c2c2"/>
<rect x="120.2" y="715.8" width="1.6" height="30.4" fill="#cbcbcb"/>
<rect x="123.1" y="656.1" width="1" height="90.1" fill="#a9a9a9"/>
<rect x="126.6" y="715.8" width="1.2" height="30.4" fill="#d04848"/>
<rect x="130.2" y="715.8" width="1.2" height="30.4" fill="#7f7fff"/>
<rect x="143.5" y="715.8" width="1.2" height="30.4" fill="#b8b8b8"/>
<rect x="153.6" y="686.1" width="1.2" height="60.1" fill="#b0b0b0"/>
<rect x="235.8" y="715.8" width="1.1" height="30.4" fill="#b8b8b8"/>
<rect x="296" y="715.8" width="1.1" height="30.4" fill="#b8b8b8"/>
<rect x="311.3" y="715.8" width="1" height="30.4" fill="#c4c4c4"/>
<rect x="419.5" y="715.8" width="1.1" height="30.4" fill="#b8b8b8"/>
<rect x="523.9" y="715.8" width="1" height="30.4" fill="#c8c8c8"/>
<rect x="702.9" y="686.1" width="1" height="60.1" fill="#cdcdcd"/>
<rect x="707.7" y="715.8" width="1.1" height="30.4" fill="#b4b4b4"/>
<rect x="758.6" y="715.8" width="1" height="30.4" fill="#c8c8c8"/>
<rect x="130.2" y="686.1" width="1.2" height="29.7" fill="#f0c890"/>
<text x="802.4" y="499.5" font-family="'Liberation Sans', Arial, sans-serif" font-size="23" font-weight="normal" font-style="normal" text-anchor="end" fill="#000" textLength="180" lengthAdjust="spacingAndGlyphs">uninfected No. 2</text>
<text x="502.4" y="635.3" font-family="'Liberation Sans', Arial, sans-serif" font-size="23" fill="#000" textLength="305.6" lengthAdjust="spacingAndGlyphs"><tspan font-style="italic">C. muridarum</tspan> infected No. 3</text>
<line x1="133.7" y1="754.7" x2="788.5" y2="754.7" stroke="#8a8aee" stroke-width="1"/>
<rect x="140" y="753.8" width="1.8" height="1.8" fill="#2222dd"/>
<rect x="166.1" y="753.8" width="1.8" height="1.8" fill="#2222dd"/>
<rect x="179.15" y="753.8" width="1.8" height="1.8" fill="#2222dd"/>
<rect x="192.2" y="753.8" width="1.8" height="1.8" fill="#2222dd"/>
<rect x="205.25" y="753.8" width="1.8" height="1.8" fill="#2222dd"/>
<rect x="218.3" y="753.8" width="1.8" height="1.8" fill="#2222dd"/>
<rect x="231.35" y="753.8" width="1.8" height="1.8" fill="#2222dd"/>
<rect x="244.4" y="753.8" width="1.8" height="1.8" fill="#2222dd"/>
<rect x="257.45" y="753.8" width="1.8" height="1.8" fill="#2222dd"/>
<rect x="270.5" y="753.8" width="1.8" height="1.8" fill="#2222dd"/>
<rect x="283.55" y="753.8" width="1.8" height="1.8" fill="#2222dd"/>
<rect x="296.6" y="753.8" width="1.8" height="1.8" fill="#2222dd"/>
<rect x="309.65" y="753.8" width="1.8" height="1.8" fill="#2222dd"/>
<rect x="322.7" y="753.8" width="1.8" height="1.8" fill="#2222dd"/>
<rect x="348.8" y="753.8" width="1.8" height="1.8" fill="#2222dd"/>
<rect x="374.9" y="753.8" width="1.8" height="1.8" fill="#2222dd"/>
<rect x="387.95" y="753.8" width="1.8" height="1.8" fill="#2222dd"/>
<rect x="401" y="753.8" width="1.8" height="1.8" fill="#2222dd"/>
<rect x="414.05" y="753.8" width="1.8" height="1.8" fill="#2222dd"/>
<rect x="427.1" y="753.8" width="1.8" height="1.8" fill="#2222dd"/>
<rect x="453.2" y="753.8" width="1.8" height="1.8" fill="#2222dd"/>
<rect x="466.25" y="753.8" width="1.8" height="1.8" fill="#2222dd"/>
<rect x="479.3" y="753.8" width="1.8" height="1.8" fill="#2222dd"/>
<rect x="492.35" y="753.8" width="1.8" height="1.8" fill="#2222dd"/>
<rect x="518.45" y="753.8" width="1.8" height="1.8" fill="#2222dd"/>
<rect x="531.5" y="753.8" width="1.8" height="1.8" fill="#2222dd"/>
<rect x="544.55" y="753.8" width="1.8" height="1.8" fill="#2222dd"/>
<rect x="557.6" y="753.8" width="1.8" height="1.8" fill="#2222dd"/>
<rect x="570.65" y="753.8" width="1.8" height="1.8" fill="#2222dd"/>
<rect x="583.7" y="753.8" width="1.8" height="1.8" fill="#2222dd"/>
<rect x="596.75" y="753.8" width="1.8" height="1.8" fill="#2222dd"/>
<rect x="609.8" y="753.8" width="1.8" height="1.8" fill="#2222dd"/>
<rect x="622.85" y="753.8" width="1.8" height="1.8" fill="#2222dd"/>
<rect x="635.9" y="753.8" width="1.8" height="1.8" fill="#2222dd"/>
<rect x="648.95" y="753.8" width="1.8" height="1.8" fill="#2222dd"/>
<rect x="662" y="753.8" width="1.8" height="1.8" fill="#2222dd"/>
<rect x="675.05" y="753.8" width="1.8" height="1.8" fill="#2222dd"/>
<rect x="688.1" y="753.8" width="1.8" height="1.8" fill="#2222dd"/>
<rect x="701.15" y="753.8" width="1.8" height="1.8" fill="#2222dd"/>
<rect x="714.2" y="753.8" width="1.8" height="1.8" fill="#2222dd"/>
<rect x="727.25" y="753.8" width="1.8" height="1.8" fill="#2222dd"/>
<rect x="740.3" y="753.8" width="1.8" height="1.8" fill="#2222dd"/>
<rect x="753.35" y="753.8" width="1.8" height="1.8" fill="#2222dd"/>
<rect x="766.4" y="753.8" width="1.8" height="1.8" fill="#2222dd"/>
<rect x="779.45" y="753.8" width="1.8" height="1.8" fill="#2222dd"/>
<rect x="101.9" y="752.9" width="26.8" height="3.6" rx="1" fill="#0000b2"/>
<rect x="128.7" y="751.5" width="5" height="6.4" rx="1" fill="#0000b2"/>
<rect x="152.2" y="751.4" width="1.7" height="6.6" rx="1" fill="#0000b2"/>
<rect x="236.3" y="751.7" width="1.3" height="6" rx="1" fill="#0000b2"/>
<rect x="328" y="751.4" width="1.9" height="6.6" rx="1" fill="#0000b2"/>
<rect x="338" y="751.4" width="1.6" height="6.6" rx="1" fill="#0000b2"/>
<rect x="363.8" y="751.4" width="1.6" height="6.6" rx="1" fill="#0000b2"/>
<rect x="394.1" y="751.4" width="1.7" height="6.6" rx="1" fill="#0000b2"/>
<rect x="440" y="751.4" width="1.7" height="6.6" rx="1" fill="#0000b2"/>
<rect x="508.3" y="751.4" width="1.7" height="6.6" rx="1" fill="#0000b2"/>
<path d="M787.8 751.7 L791 754.7 L787.8 757.7 Z" fill="#0000b2"/>
<text x="4.8" y="29.5" font-family="'Liberation Sans', Arial, sans-serif" font-size="33.9" font-weight="bold" font-style="normal" text-anchor="start" fill="#000">A</text>
<text x="5.8" y="426.1" font-family="'Liberation Sans', Arial, sans-serif" font-size="33.3" font-weight="bold" font-style="normal" text-anchor="start" fill="#000">B</text>
<text transform="translate(49.9 190.8) rotate(-90)" x="0" y="0" font-family="'Liberation Sans', Arial, sans-serif" font-weight="bold" font-size="18.5" textLength="85.27" lengthAdjust="spacingAndGlyphs" fill="#000">read count</text>
<text transform="translate(53.3 338) rotate(-90)" x="0" y="0" font-family="'Liberation Sans', Arial, sans-serif" font-weight="bold" font-size="18.5" textLength="85.37" lengthAdjust="spacingAndGlyphs" fill="#000">read count</text>
<text transform="translate(51.9 583.7) rotate(-90)" x="0" y="0" font-family="'Liberation Sans', Arial, sans-serif" font-weight="bold" font-size="18.5" textLength="85.17" lengthAdjust="spacingAndGlyphs" fill="#000">read count</text>
<text transform="translate(54 731.4) rotate(-90)" x="0" y="0" font-family="'Liberation Sans', Arial, sans-serif" font-weight="bold" font-size="18.5" textLength="85.17" lengthAdjust="spacingAndGlyphs" fill="#000">read count</text>
<text x="942" y="29.2" font-family="'Liberation Sans', Arial, sans-serif" font-size="33" font-weight="bold" font-style="normal" text-anchor="start" fill="#000">C</text>
<rect x="1059" y="29.3" width="857" height="617.2" fill="none" stroke="#000" stroke-width="2"/>
<line x1="1051" y1="646.5" x2="1059" y2="646.5" stroke="#000" stroke-width="2"/>
<text transform="translate(1038.8 655.3) scale(0.91 1)" x="0" y="0" font-family="'Liberation Sans', Arial, sans-serif" font-size="25.8" text-anchor="end" fill="#000">0</text>
<line x1="1051" y1="577.92" x2="1059" y2="577.92" stroke="#000" stroke-width="2"/>
<text transform="translate(1038.8 586.72) scale(0.91 1)" x="0" y="0" font-family="'Liberation Sans', Arial, sans-serif" font-size="25.8" text-anchor="end" fill="#000">20</text>
<line x1="1051" y1="509.34" x2="1059" y2="509.34" stroke="#000" stroke-width="2"/>
<text transform="translate(1038.8 518.14) scale(0.91 1)" x="0" y="0" font-family="'Liberation Sans', Arial, sans-serif" font-size="25.8" text-anchor="end" fill="#000">40</text>
<line x1="1051" y1="440.77" x2="1059" y2="440.77" stroke="#000" stroke-width="2"/>
<text transform="translate(1038.8 449.57) scale(0.91 1)" x="0" y="0" font-family="'Liberation Sans', Arial, sans-serif" font-size="25.8" text-anchor="end" fill="#000">60</text>
<line x1="1051" y1="372.19" x2="1059" y2="372.19" stroke="#000" stroke-width="2"/>
<text transform="translate(1038.8 380.99) scale(0.91 1)" x="0" y="0" font-family="'Liberation Sans', Arial, sans-serif" font-size="25.8" text-anchor="end" fill="#000">80</text>
<line x1="1051" y1="303.61" x2="1059" y2="303.61" stroke="#000" stroke-width="2"/>
<text transform="translate(1038.8 312.41) scale(0.91 1)" x="0" y="0" font-family="'Liberation Sans', Arial, sans-serif" font-size="25.8" text-anchor="end" fill="#000">100</text>
<line x1="1051" y1="235.03" x2="1059" y2="235.03" stroke="#000" stroke-width="2"/>
<text transform="translate(1038.8 243.83) scale(0.91 1)" x="0" y="0" font-family="'Liberation Sans', Arial, sans-serif" font-size="25.8" text-anchor="end" fill="#000">120</text>
<line x1="1051" y1="166.46" x2="1059" y2="166.46" stroke="#000" stroke-width="2"/>
<text transform="translate(1038.8 175.26) scale(0.91 1)" x="0" y="0" font-family="'Liberation Sans', Arial, sans-serif" font-size="25.8" text-anchor="end" fill="#000">140</text>
<line x1="1051" y1="97.88" x2="1059" y2="97.88" stroke="#000" stroke-width="2"/>
<text transform="translate(1038.8 106.68) scale(0.91 1)" x="0" y="0" font-family="'Liberation Sans', Arial, sans-serif" font-size="25.8" text-anchor="end" fill="#000">160</text>
<line x1="1051" y1="29.3" x2="1059" y2="29.3" stroke="#000" stroke-width="2"/>
<text transform="translate(1038.8 38.1) scale(0.91 1)" x="0" y="0" font-family="'Liberation Sans', Arial, sans-serif" font-size="25.8" text-anchor="end" fill="#000">180</text>
<line x1="1196" y1="646.5" x2="1196" y2="655.2" stroke="#000" stroke-width="2"/>
<line x1="1390" y1="646.5" x2="1390" y2="655.2" stroke="#000" stroke-width="2"/>
<line x1="1584.8" y1="646.5" x2="1584.8" y2="655.2" stroke="#000" stroke-width="2"/>
<line x1="1779.6" y1="646.5" x2="1779.6" y2="655.2" stroke="#000" stroke-width="2"/>
<rect x="1145.3" y="625.8" width="24.6" height="20.7" fill="#000"/>
<rect x="1184.1" y="537.7" width="23.8" height="108.8" fill="#000"/>
<rect x="1223" y="615.8" width="23.9" height="30.7" fill="#000"/>
<rect x="1340.3" y="614.8" width="23.3" height="31.7" fill="#000"/>
<rect x="1379.1" y="537.6" width="23.7" height="108.9" fill="#000"/>
<rect x="1417.6" y="576.8" width="23.9" height="69.7" fill="#000"/>
<rect x="1534.1" y="305.6" width="24.4" height="340.9" fill="#000"/>
<rect x="1572.8" y="609.8" width="24.5" height="36.7" fill="#000"/>
<rect x="1612.1" y="108.1" width="24.3" height="538.4" fill="#000"/>
<rect x="1728.7" y="610.8" width="24.5" height="35.7" fill="#000"/>
<rect x="1768.1" y="490.7" width="24.2" height="155.8" fill="#000"/>
<rect x="1806.9" y="443.5" width="23.6" height="203" fill="#000"/>
<text x="1190.3" y="80.2" font-family="'DejaVu Sans', sans-serif" font-size="26.5" text-anchor="middle" fill="#000">*</text>
<text x="1360.5" y="80.2" font-family="'DejaVu Sans', sans-serif" font-size="26.5" text-anchor="middle" fill="#000">*</text>
<text x="1377.2" y="80.2" font-family="'DejaVu Sans', sans-serif" font-size="26.5" text-anchor="middle" fill="#000">*</text>
<text x="1560" y="78.2" font-family="'DejaVu Sans', sans-serif" font-size="26.5" text-anchor="middle" fill="#000">*</text>
<text x="1576.9" y="78.2" font-family="'DejaVu Sans', sans-serif" font-size="26.5" text-anchor="middle" fill="#000">*</text>
<text x="1763.5" y="79.1" font-family="'DejaVu Sans', sans-serif" font-size="26.5" text-anchor="middle" fill="#000">*</text>
<text x="1780" y="79.1" font-family="'DejaVu Sans', sans-serif" font-size="26.5" text-anchor="middle" fill="#000">*</text>
<text x="1146.5" y="692.8" font-family="'Liberation Sans', Arial, sans-serif" font-style="italic" font-size="27" textLength="132.2" lengthAdjust="spacingAndGlyphs" fill="#000">C. pneum.</text>
<text x="1326.7" y="692.8" font-family="'Liberation Sans', Arial, sans-serif" font-style="italic" font-size="27" textLength="117.9" lengthAdjust="spacingAndGlyphs" fill="#000">C. murid.</text>
<text x="1530.9" y="693.1" font-family="'Liberation Sans', Arial, sans-serif" font-style="italic" font-size="27" textLength="132" lengthAdjust="spacingAndGlyphs" fill="#000">C. pneum.</text>
<text x="1718.7" y="693.1" font-family="'Liberation Sans', Arial, sans-serif" font-style="italic" font-size="27" textLength="118.4" lengthAdjust="spacingAndGlyphs" fill="#000">C. murid.</text>
<line x1="1143.6" y1="712" x2="1434.7" y2="712" stroke="#000" stroke-width="2.1"/>
<line x1="1530.1" y1="714.2" x2="1821.5" y2="714.2" stroke="#000" stroke-width="2.1"/>
<text x="1273.7" y="770.7" font-family="'Liberation Sans', Arial, sans-serif" font-size="35.2" textLength="79" lengthAdjust="spacingAndGlyphs" fill="#000">IDO1</text>
<text x="1656.6" y="771.4" font-family="'Liberation Sans', Arial, sans-serif" font-size="35.2" textLength="78.9" lengthAdjust="spacingAndGlyphs" fill="#000">IDO2</text>
<text transform="translate(960.4 544.6) rotate(-90)" x="0" y="0" font-family="'Liberation Sans', Arial, sans-serif" font-size="26.1" textLength="410" lengthAdjust="spacingAndGlyphs" fill="#000">Fold change (vs. uninfected control)</text>
</svg>
</body></html>
